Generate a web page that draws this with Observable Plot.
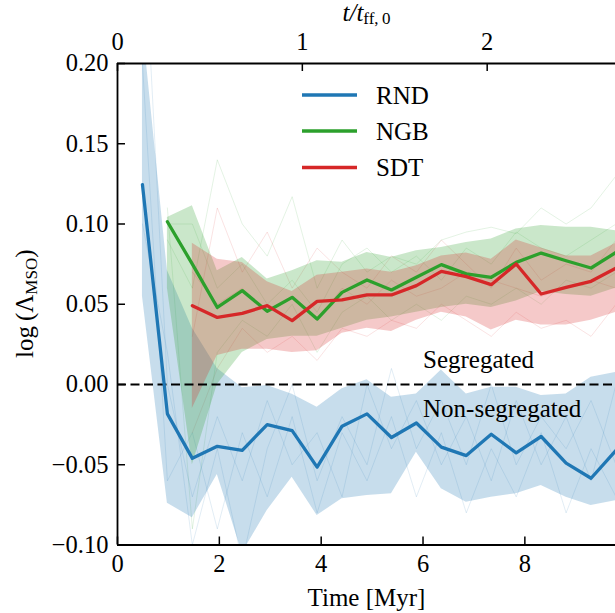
<!DOCTYPE html>
<html>
<head>
<meta charset="utf-8">
<script src="https://cdn.jsdelivr.net/npm/d3@7"></script>
<script src="https://cdn.jsdelivr.net/npm/@observablehq/plot@0.6"></script>
<style>
  html, body { margin: 0; padding: 0; background: #fff; }
  #chart { width: 615px; height: 613px; overflow: hidden; }
</style>
</head>
<body>
<div id="chart"></div>
<script>
// ---------------- data ----------------
const times = [0.49, 0.98, 1.47, 1.96, 2.45, 2.94, 3.43, 3.92, 4.41, 4.90,
               5.38, 5.87, 6.36, 6.85, 7.34, 7.83, 8.32, 8.81, 9.30, 9.79];

const seriesNames = ["RND", "NGB", "SDT"];
const seriesColors = ["#1f77b4", "#2ca02c", "#d62728"];

// RND starts at times[0]
const rndMedian = [0.1245, -0.0183, -0.046, -0.0385, -0.041, -0.025, -0.0287, -0.0515, -0.026, -0.0183,
                   -0.033, -0.024, -0.039, -0.0443, -0.031, -0.0426, -0.0324, -0.049, -0.0584, -0.041];
const rndLow    = [0.055, -0.074, -0.083, -0.056, -0.105, -0.0785, -0.0578, -0.0816, -0.0712, -0.0692,
                   -0.0681, -0.0422, -0.065, -0.0733, -0.0702, -0.0681, -0.0629, -0.0702, -0.0754, -0.0723];
const rndHigh   = [0.225, 0.071, 0.035, 0.01, -0.002, -0.0007, -0.006, -0.0142, -0.0027, 0.0029,
                   -0.008, -0.0059, 0.009, -0.0059, -0.0017, -0.0017, -0.0069, -0.0059, 0.0045, 0.0076];

// NGB starts at times[1]
const ngbMedian = [0.1014, 0.075, 0.048, 0.0585, 0.0456, 0.0543, 0.0408, 0.0574, 0.0651, 0.0589,
                   0.0668, 0.0747, 0.0689, 0.0668, 0.0761, 0.0819, 0.0771, 0.0726, 0.0823];
const ngbLow    = [0.06, -0.05, 0.0, 0.02, 0.028, 0.03, 0.03, 0.035, 0.04, 0.042,
                   0.045, 0.048, 0.05, 0.048, 0.052, 0.058, 0.056, 0.055, 0.06];
const ngbHigh   = [0.104, 0.1114, 0.0709, 0.0792, 0.0657, 0.0709, 0.0771, 0.0761, 0.0823, 0.0792,
                   0.0834, 0.0854, 0.0885, 0.0907, 0.0969, 0.099, 0.0979, 0.098, 0.0958];

// SDT starts at times[2]
const sdtMedian = [0.0491, 0.0418, 0.0443, 0.0491, 0.0398, 0.0518, 0.0527, 0.0558, 0.0558, 0.0616,
                   0.0705, 0.0672, 0.0622, 0.0751, 0.0564, 0.0605, 0.0643, 0.0726];
const sdtLow    = [-0.015, 0.018, 0.022, 0.022, 0.02, 0.021, 0.032, 0.035, 0.033, 0.04,
                   0.045, 0.042, 0.034, 0.04, 0.037, 0.037, 0.04, 0.045];
const sdtHigh   = [0.088, 0.078, 0.076, 0.064, 0.058, 0.068, 0.07, 0.072, 0.07, 0.074,
                   0.08, 0.082, 0.078, 0.09, 0.085, 0.08, 0.08, 0.088];

// a few of the faint individual runs (rough estimates)
const rndRun1 = [0.3, 0.0, -0.07, -0.02, -0.06, -0.01, -0.05, -0.03, -0.07, 0.0,
                 -0.04, -0.01, -0.05, -0.02, -0.06, -0.01, -0.05, -0.02, -0.06, 0.0];
const rndRun2 = [0.2, -0.06, -0.03, -0.09, -0.03, -0.07, -0.02, -0.08, -0.03, -0.06,
                 -0.02, -0.07, -0.03, -0.08, -0.04, -0.07, -0.03, -0.08, -0.04, -0.07];
const rndRun3 = [0.1, 0.02, -0.1, -0.04, -0.11, -0.04, 0.0, -0.06, -0.02, -0.05,
                 0.01, -0.04, -0.01, -0.05, 0.0, -0.05, -0.02, -0.04, -0.01, -0.05];
const ngbRun1 = [0.09, 0.06, 0.14, 0.10, 0.08, 0.117, 0.06, 0.09, 0.07, 0.08,
                 0.075, 0.09, 0.095, 0.098, 0.094, 0.11, 0.1, 0.11, 0.13];
const ngbRun2 = [0.11, -0.09, 0.02, 0.04, 0.03, 0.05, 0.02, 0.045, 0.055, 0.04,
                 0.05, 0.04, 0.055, 0.05, 0.06, 0.05, 0.065, 0.06, 0.07];
const ngbRun3 = [0.1, 0.1, 0.06, 0.075, 0.05, 0.065, 0.045, 0.075, 0.085, 0.07,
                 0.08, 0.065, 0.085, 0.075, 0.095, 0.085, 0.08, 0.09, 0.1];
const sdtRun1 = [0.03, 0.11, 0.07, 0.095, 0.06, 0.085, 0.07, 0.06, 0.08, 0.07,
                 0.09, 0.075, 0.06, 0.085, 0.065, 0.075, 0.07, 0.09];
const sdtRun2 = [-0.03, 0.01, 0.035, 0.02, 0.03, 0.015, 0.035, 0.03, 0.04, 0.035,
                 0.05, 0.04, 0.03, 0.045, 0.035, 0.04, 0.03, 0.05];
const sdtRun3 = [0.07, 0.05, 0.06, 0.045, 0.055, 0.04, 0.06, 0.05, 0.065, 0.055,
                 0.06, 0.07, 0.065, 0.06, 0.055, 0.06, 0.065, 0.06];

// axis ticks and labels
const xTicks = [0, 2, 4, 6, 8];
const yTicks = [-0.10, -0.05, 0.00, 0.05, 0.10, 0.15, 0.20];
const tffMyr = 3.63;            // one initial free-fall time in Myr
const tffTicks = [0, 1, 2];
const annotationText = ["Segregated", "Non-segregated"];
const annotationX = [6, 6];
const annotationY = [0.01, -0.02];

// ---------------- tables ----------------
const startIndex = {RND: 0, NGB: 1, SDT: 2};
function bandTable(name, med, lo, hi) {
  return med.map((m, i) => ({series: name, t: times[i + startIndex[name]], med: m, lo: lo[i], hi: hi[i]}));
}
function runTable(name, runId, vals) {
  return vals.map((v, i) => ({series: name, run: name + runId, t: times[i + startIndex[name]], v}));
}
const bands = [
  ...bandTable("RND", rndMedian, rndLow, rndHigh),
  ...bandTable("NGB", ngbMedian, ngbLow, ngbHigh),
  ...bandTable("SDT", sdtMedian, sdtLow, sdtHigh)
];
const runs = [
  ...runTable("RND", 1, rndRun1), ...runTable("RND", 2, rndRun2), ...runTable("RND", 3, rndRun3),
  ...runTable("NGB", 1, ngbRun1), ...runTable("NGB", 2, ngbRun2), ...runTable("NGB", 3, ngbRun3),
  ...runTable("SDT", 1, sdtRun1), ...runTable("SDT", 2, sdtRun2), ...runTable("SDT", 3, sdtRun3)
];
const annotations = annotationText.map((s, i) => ({label: s, x: annotationX[i], y: annotationY[i]}));

// ---------------- layout ----------------
const W = 615, H = 613;
const mL = 117, mR = 0, mT = 63, mB = 68.5;
const plotH = H - mT - mB, plotW = W - mL - mR;
const font = "'Liberation Serif', 'DejaVu Serif', serif";
const FS = 24.5;

const plot = Plot.plot({
  width: W, height: H,
  marginLeft: mL, marginRight: mR, marginTop: mT, marginBottom: mB,
  style: {fontFamily: font, fontSize: FS + "px", background: "white", color: "black", overflow: "hidden"},
  x: {domain: [0, 9.78]},
  y: {domain: [-0.1, 0.2]},
  color: {domain: seriesNames, range: seriesColors},
  marks: [
    Plot.line(runs, {x: "t", y: "v", z: "run", stroke: "series", strokeOpacity: 0.13, strokeWidth: 1, clip: true}),
    Plot.areaY(bands, {x: "t", y1: "lo", y2: "hi", z: "series", fill: "series", fillOpacity: 0.25, clip: true}),
    Plot.ruleY([0], {stroke: "black", strokeWidth: 2.2, strokeDasharray: "9,4.5"}),
    Plot.line(bands, {x: "t", y: "med", z: "series", stroke: "series", strokeWidth: 3.3, clip: true}),
    Plot.text(annotations, {x: "x", y: "y", text: "label", textAnchor: "start", lineAnchor: "bottom",
                            fontSize: 25, fill: "black"}),
    // spines
    Plot.ruleX([0], {stroke: "black", strokeWidth: 1.8}),
    Plot.ruleY([-0.1, 0.2], {stroke: "black", strokeWidth: 1.8}),
    // inward ticks
    Plot.tickX(xTicks, {x: d => d, insetTop: plotH - 8, stroke: "black", strokeWidth: 1.5}),
    Plot.tickX(tffTicks.map(k => k * tffMyr), {x: d => d, insetBottom: plotH - 8, stroke: "black", strokeWidth: 1.5}),
    Plot.tickY(yTicks, {y: d => d, insetRight: plotW - 8, stroke: "black", strokeWidth: 1.5}),
    // tick labels
    Plot.axisX(xTicks, {anchor: "bottom", tickSize: 0, tickPadding: 9.5, label: null, fontSize: FS}),
    Plot.axisX(tffTicks.map(k => k * tffMyr), {anchor: "top", tickSize: 0, tickPadding: 14, label: null, fontSize: FS,
                                              tickFormat: d => String(Math.round(d / tffMyr))}),
    Plot.axisY(yTicks, {anchor: "left", tickSize: 0, tickPadding: 9, label: null, fontSize: FS,
                        tickFormat: d3.format(".2f")})
  ]
});

document.getElementById("chart").appendChild(plot);

// ---------------- axis titles & legend ----------------
const svg = d3.select(plot);
const cx = mL + 249.5;

const yl = svg.append("text")
  .attr("transform", `translate(33,${mT + plotH / 2}) rotate(-90)`)
  .attr("text-anchor", "middle").attr("font-family", font).attr("font-size", 25).attr("fill", "black");
yl.append("tspan").text("log\u2009(\u039B");
yl.append("tspan").attr("font-size", 17).attr("dy", 4).text("MSO");
yl.append("tspan").attr("dy", -4).text(")");

const tt = svg.append("text")
  .attr("x", cx).attr("y", 21)
  .attr("text-anchor", "middle").attr("font-family", font).attr("font-size", 25).attr("fill", "black");
tt.append("tspan").attr("font-style", "italic").text("t/t");
tt.append("tspan").attr("font-size", 17).attr("dy", 3).text("ff,\u20090");

svg.append("text")
  .attr("x", cx).attr("y", 606)
  .attr("text-anchor", "middle").attr("font-family", font).attr("font-size", 25).attr("fill", "black")
  .text("Time [Myr]");

const legendY = [95, 131, 167.5];
const lg = svg.append("g").attr("text-anchor", "start");
seriesNames.forEach((name, i) => {
  lg.append("line").attr("x1", 302).attr("x2", 357).attr("y1", legendY[i]).attr("y2", legendY[i])
    .attr("stroke", seriesColors[i]).attr("stroke-width", 3.3);
  lg.append("text").attr("x", 376).attr("y", legendY[i] + 8.5).attr("text-anchor", "start")
    .attr("font-family", font).attr("font-size", 25).attr("fill", "black").text(name);
});
</script>
</body>
</html>
